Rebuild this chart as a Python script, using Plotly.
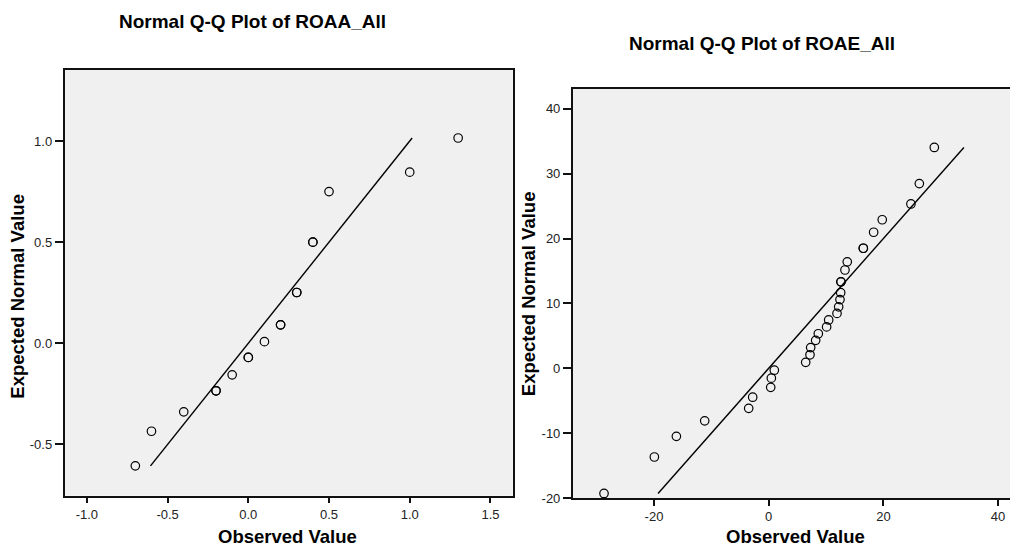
import plotly.graph_objects as go

# ---- data: ROAA_All ----
roaa_observed = [-0.7, -0.6, -0.4, -0.2, -0.2, -0.1, 0.0, 0.0, 0.1, 0.2, 0.2, 0.3, 0.3, 0.4, 0.4, 0.5, 1.0, 1.3]
roaa_expected = [-0.606, -0.435, -0.339, -0.235, -0.235, -0.156, -0.07, -0.07, 0.008, 0.091, 0.091, 0.251, 0.251, 0.50, 0.50, 0.75, 0.846, 1.015]
roaa_line = [-0.606, 1.015]

# ---- data: ROAE_All ----
roae_observed = [-28.72, -19.94, -16.1, -11.16, -3.49, -2.79, 0.35, 0.46, 0.98, 6.45, 7.2, 7.32, 8.19, 8.65,
                 10.1, 10.46, 11.91, 12.2, 12.43, 12.55, 12.6, 12.6, 13.3, 13.7, 16.5, 16.5, 18.3, 19.8, 24.8,
                 26.27, 28.88]
roae_expected = [-19.3, -13.68, -10.49, -8.1, -6.18, -4.46, -2.94, -1.52, -0.3, 0.91, 2.08, 3.19, 4.31, 5.32,
                 6.38, 7.45, 8.46, 9.47, 10.59, 11.65, 13.32, 13.32, 15.15, 16.41, 18.5, 18.5, 20.97, 22.9, 25.33,
                 28.47, 34.04]
roae_line = [-19.3, 34.04]

# tick labels
roaa_xticks = [-1.0, -0.5, 0.0, 0.5, 1.0, 1.5]
roaa_xtext = ["-1.0", "-0.5", "0.0", "0.5", "1.0", "1.5"]
roaa_yticks = [-0.5, 0.0, 0.5, 1.0]
roaa_ytext = ["-0.5", "0.0", "0.5", "1.0"]
roae_xticks = [-20, 0, 20, 40]
roae_xtext = ["-20", "0", "20", "40"]
roae_yticks = [-20, -10, 0, 10, 20, 30, 40]
roae_ytext = ["-20", "-10", "0", "10", "20", "30", "40"]

W, H = 1010, 554
FONT = "Liberation Sans, Arial, Helvetica, sans-serif"

def px_x(p):
    return p / W

def px_y(p):
    return 1 - p / H

fig = go.Figure()

marker = dict(symbol="circle-open", size=8.5, color="black", line=dict(width=1.2, color="black"))

fig.add_trace(go.Scatter(x=roaa_line, y=roaa_line, mode="lines", line=dict(color="black", width=1.4),
                         xaxis="x", yaxis="y", showlegend=False, hoverinfo="skip"))
fig.add_trace(go.Scatter(x=roaa_observed, y=roaa_expected, mode="markers", marker=marker,
                         xaxis="x", yaxis="y", showlegend=False))
fig.add_trace(go.Scatter(x=roae_line, y=roae_line, mode="lines", line=dict(color="black", width=1.4),
                         xaxis="x2", yaxis="y2", showlegend=False, hoverinfo="skip"))
fig.add_trace(go.Scatter(x=roae_observed, y=roae_expected, mode="markers", marker=marker,
                         xaxis="x2", yaxis="y2", showlegend=False))

tickfont = dict(family=FONT, size=13, color="#222222")
axis_common = dict(showgrid=False, zeroline=False, showline=True, linecolor="#111111", linewidth=1.5,
                   ticks="outside", tickcolor="#111111", tickwidth=1.5, tickfont=tickfont, tickmode="array")

fig.update_layout(
    width=W, height=H, autosize=False,
    margin=dict(l=0, r=0, t=0, b=0),
    paper_bgcolor="white",
    plot_bgcolor="#f0f0f0",
    showlegend=False,
    xaxis=dict(domain=[px_x(64.5), px_x(512.7)], range=[-1.1388, 1.638], anchor="y",
               tickvals=roaa_xticks, ticktext=roaa_xtext, mirror=True, ticklen=6, **axis_common),
    yaxis=dict(domain=[px_y(503), px_y(71)], range=[-0.7539, 1.3514], anchor="x",
               tickvals=roaa_yticks, ticktext=roaa_ytext, mirror=True, ticklen=8, **axis_common),
    xaxis2=dict(domain=[px_x(572.7), 1.0], range=[-34.18, 42.08], anchor="y2",
                tickvals=roae_xticks, ticktext=roae_xtext, mirror=True, ticklen=6, **axis_common),
    yaxis2=dict(domain=[px_y(505.3), px_y(90)], range=[-20.0, 43.1], anchor="x2",
                tickvals=roae_yticks, ticktext=roae_ytext, mirror=False, ticklen=8, **axis_common),
)

title_font = dict(family=FONT, size=19, color="black")
axtitle_font = dict(family=FONT, size=18.5, color="black")

annotations = [
    dict(text="<b>Normal Q-Q Plot of ROAA_All</b>", x=px_x(117), y=px_y(22), xanchor="left", yanchor="middle",
         font=title_font),
    dict(text="<b>Normal Q-Q Plot of ROAE_All</b>", x=px_x(627), y=px_y(44), xanchor="left", yanchor="middle",
         font=title_font),
    dict(text="<b>Observed Value</b>", x=px_x(287), y=px_y(544), xanchor="center", yanchor="middle",
         font=axtitle_font),
    dict(text="<b>Observed Value</b>", x=px_x(795), y=px_y(544), xanchor="center", yanchor="middle",
         font=axtitle_font),
    dict(text="<b>Expected Normal Value</b>", x=px_x(18), y=px_y(301), xanchor="center", yanchor="middle",
         textangle=-90, font=axtitle_font),
    dict(text="<b>Expected Normal Value</b>", x=px_x(528.5), y=px_y(298), xanchor="center", yanchor="middle",
         textangle=-90, font=axtitle_font),
]
for a in annotations:
    a.update(xref="paper", yref="paper", showarrow=False)
fig.update_layout(annotations=annotations)

fig.write_html("out.html", config={"displayModeBar": False})
